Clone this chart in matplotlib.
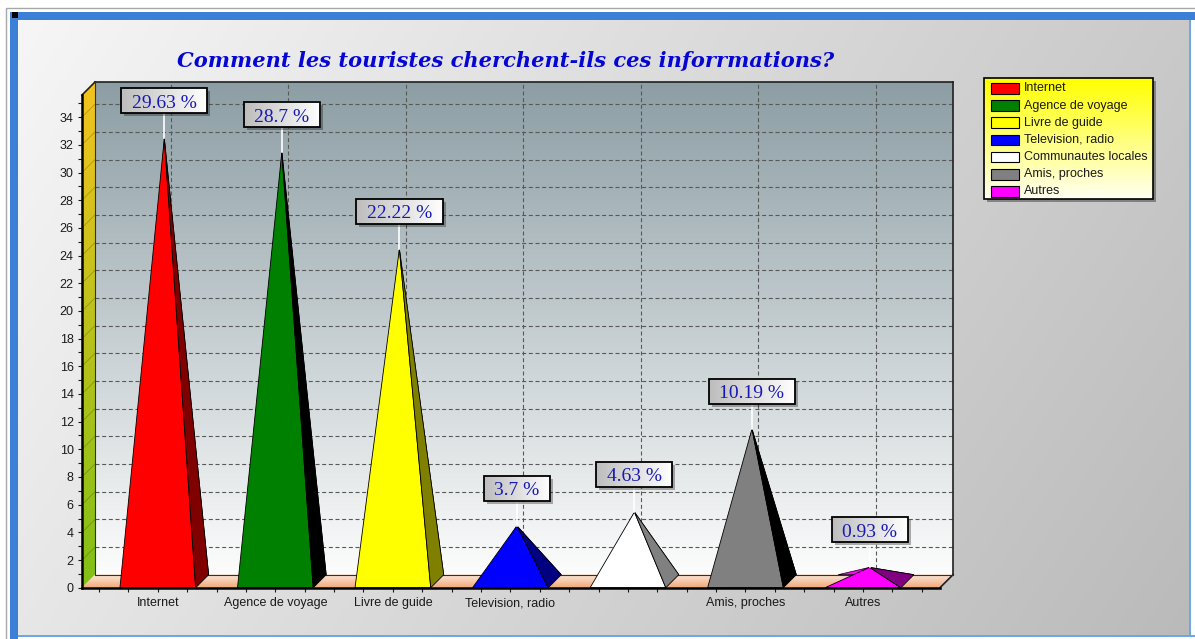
import numpy as np
import matplotlib
matplotlib.use("Agg")
import matplotlib.pyplot as plt
from matplotlib.patches import Polygon, Rectangle
from matplotlib.colors import to_rgb
from matplotlib.ticker import MultipleLocator

# ---------------- data ----------------
categories = ["Internet", "Agence de voyage", "Livre de guide", "Television, radio",
              "Communautes locales", "Amis, proches", "Autres"]
counts = [32, 31, 24, 4, 5, 11, 1]
percent_labels = ["29.63 %", "28.7 %", "22.22 %", "3.7 %", "4.63 %", "10.19 %", "0.93 %"]
tick_labels = ["Internet", "Agence de voyage", "Livre de guide", "Television, radio",
               "", "Amis, proches", "Autres"]
front_colors = ["#ff0000", "#008000", "#ffff00", "#0000ff", "#ffffff", "#808080", "#ff00ff"]
side_colors = ["#800000", "#000000", "#808000", "#000080", "#808080", "#000000", "#800080"]
y_ticks = list(range(0, 35, 2))
title_text = "Comment les touristes cherchent-ils ces inforrmations?"

# ---------------- figure ----------------
W, H, DPI = 1195, 639, 100
plt.rcParams['font.family'] = ['Liberation Sans', 'DejaVu Sans']
fig = plt.figure(figsize=(W / DPI, H / DPI), dpi=DPI)
fig.patch.set_facecolor('white')

# background / frame axes in pixel coordinates
bg = fig.add_axes([0, 0, 1, 1], zorder=0)
bg.set_xlim(0, W); bg.set_ylim(H, 0); bg.set_autoscale_on(False); bg.axis('off')
gx = np.linspace(0, 1, 240)[None, :]
gy = np.linspace(0, 1, 120)[:, None]
val = 0.965 - 0.175 * gx - 0.06 * gy
bg.imshow(np.dstack([val, val, val]), extent=(18, 1190, 636, 19), origin='upper',
          aspect='auto', interpolation='bilinear', zorder=0)
bg.add_patch(Rectangle((6, 8), W, H, fill=False, ec='#a8a8a8', lw=1, zorder=1))
bg.add_patch(Rectangle((10, 12), W - 10, 8, fc='#3b7fd6', ec='none', zorder=2))
bg.add_patch(Rectangle((10, 12), 8, H - 12, fc='#3b7fd6', ec='none', zorder=2))
bg.add_patch(Rectangle((12, 12), 6, 6, fc='black', ec='none', zorder=3))
bg.add_patch(Rectangle((18, 635), W, 2, fc='#6fa6e6', ec='none', zorder=2))
bg.add_patch(Rectangle((1189, 20), 2, 617, fc='#6fa6e6', ec='none', zorder=2))

# ---------------- main axes (front plane) ----------------
px_left, px_right, px_zero, px_top = 82, 940, 587.7, 95
ax = fig.add_axes([px_left / W, (H - px_zero) / H, (px_right - px_left) / W,
                   (px_zero - px_top) / H], zorder=2)
xmin, xmax = -0.645, 6.655
ymin, ymax = 0, 35.6
ax.set_xlim(xmin, xmax); ax.set_ylim(ymin, ymax)
ax.set_autoscale_on(False)
ax.set_facecolor('none')

depth_px = 13
dx = depth_px * (xmax - xmin) / (px_right - px_left)
dy = depth_px * (ymax - ymin) / (px_zero - px_top)

# back wall gradient
t = np.linspace(0, 1, 200)[:, None, None]
top_c = np.array([0.55, 0.62, 0.645]); bot_c = np.array([0.99, 0.99, 0.99])
wall = bot_c + (top_c - bot_c) * t
wall = np.repeat(wall, 2, axis=1)
ax.imshow(wall, extent=(xmin + dx, xmax + dx, dy, ymax + dy), origin='lower',
          aspect='auto', interpolation='bilinear', zorder=0.5, clip_on=False)

# grid on back wall
gls = dict(ls=(0, (3.6, 2.4)), color='#585858', lw=0.8, zorder=1, clip_on=False)
for v in y_ticks[1:]:
    ax.plot([xmin + dx, xmax + dx], [v + dy, v + dy], **gls)
for c in range(len(categories)):
    ax.plot([c + dx, c + dx], [dy, ymax + dy], **gls)

# left wall (gradient strips)
n = 140
lw_top = np.array(to_rgb('#f2c21a')); lw_bot = np.array(to_rgb('#80bf12'))
for i in range(n):
    y0 = ymax * i / n; y1 = ymax * (i + 1) / n
    col = lw_bot + (lw_top - lw_bot) * ((i + 0.5) / n)
    ax.add_patch(Polygon([(xmin, y0), (xmin + dx, y0 + dy), (xmin + dx, y1 + dy), (xmin, y1)],
                         closed=True, fc=col, ec=col, lw=0.3, zorder=2, clip_on=False))
for v in y_ticks[1:]:
    ax.plot([xmin, xmin + dx], [v, v + dy], color='black', alpha=0.22, lw=0.6,
            zorder=2.2, clip_on=False)

# floor (gradient strips)
nf = 14
fl_front = np.array(to_rgb('#f2a676')); fl_back = np.array(to_rgb('#ffe6d4'))
for i in range(nf):
    t0 = i / nf; t1 = (i + 1) / nf
    col = fl_front + (fl_back - fl_front) * ((i + 0.5) / nf)
    ax.add_patch(Polygon([(xmin + t0 * dx, t0 * dy), (xmax + t0 * dx, t0 * dy),
                          (xmax + t1 * dx, t1 * dy), (xmin + t1 * dx, t1 * dy)],
                         closed=True, fc=col, ec=col, lw=0.3, zorder=2, clip_on=False))

# box outlines
ols = dict(color='#202020', lw=1.2, zorder=2.6, clip_on=False)
ax.plot([xmin + dx, xmax + dx], [ymax + dy, ymax + dy], **ols)
ax.plot([xmax + dx, xmax + dx], [ymax + dy, dy], **ols)
ax.plot([xmin, xmin + dx], [ymax, ymax + dy], **ols)
ax.plot([xmax, xmax + dx], [0, dy], **ols)
ax.plot([xmin + dx, xmax + dx], [dy, dy], color='#303030', lw=0.8, zorder=2.6, clip_on=False)
ax.plot([xmin + dx, xmin + dx], [dy, ymax + dy], color='#303030', lw=0.8, zorder=2.6, clip_on=False)

# pyramids
hw = 0.322
apexes = []
for i, (v, fc, sc) in enumerate(zip(counts, front_colors, side_colors)):
    c = i
    apex = (c + dx / 2, v + dy / 2)
    apexes.append(apex)
    ax.add_patch(Polygon([(c - hw + dx, dy), (c + hw + dx, dy), apex], closed=True,
                         fc=fc, ec='black', lw=0.5, zorder=3, clip_on=False))
    ax.add_patch(Polygon([(c - hw, 0), (c + hw, 0), apex], closed=True,
                         fc=fc, ec='black', lw=0.6, zorder=4, clip_on=False))
    ax.add_patch(Polygon([(c + hw, 0), (c + hw + dx, dy), apex], closed=True,
                         fc=sc, ec='black', lw=0.6, zorder=4, clip_on=False))

# axes styling
for s in ['top', 'right']:
    ax.spines[s].set_visible(False)
for s in ['left', 'bottom']:
    ax.spines[s].set_color('black'); ax.spines[s].set_linewidth(1.8)
    ax.spines[s].set_zorder(5)
ax.set_yticks(y_ticks)
ax.yaxis.set_minor_locator(MultipleLocator(1))
ax.set_xticks(range(len(categories)))
ax.set_xticklabels(tick_labels)
ax.xaxis.set_minor_locator(MultipleLocator(0.25))
ax.tick_params(axis='both', which='both', direction='out', length=3, width=0.8,
               colors='#1a1a1a', labelsize=9)
ax.tick_params(axis='y', pad=3)
ax.tick_params(axis='x', pad=4)

# ---------------- overlay axes (labels, legend) ----------------
ov = fig.add_axes([0, 0, 1, 1], zorder=5)
ov.set_xlim(0, W); ov.set_ylim(H, 0); ov.set_autoscale_on(False); ov.axis('off')
ov.set_facecolor('none')
renderer = fig.canvas.get_renderer()

hgrad = np.linspace(0.74, 1.0, 100)[None, :]
hgrad = np.dstack([hgrad, hgrad, hgrad])
box_gap, box_h, box_padx = 25, 25, 10.5
for apex, lab in zip(apexes, percent_labels):
    disp = ax.transData.transform(apex)
    px, py = ov.transData.inverted().transform(disp)
    bb = py - box_gap
    bt = bb - box_h
    txt = ov.text(px, bb - 5.6, lab, ha='center', va='baseline', fontsize=14,
                  family='Liberation Serif', color='#1818b4', zorder=8)
    w = txt.get_window_extent(renderer).width
    bw = w + 2 * box_padx
    ov.plot([px, px], [py, bb], color='white', lw=1.2, zorder=5)
    ov.add_patch(Rectangle((px - bw / 2 + 3, bt + 3), bw, box_h, fc=(0, 0, 0, 0.3),
                           ec='none', zorder=5.5))
    ov.imshow(hgrad, extent=(px - bw / 2, px + bw / 2, bb, bt), origin='upper',
              aspect='auto', interpolation='bilinear', zorder=6)
    ov.add_patch(Rectangle((px - bw / 2, bt), bw, box_h, fill=False, ec='black',
                           lw=1.3, zorder=7))

# legend
lx0, ly0, lwid, lhei = 984, 78, 169, 121
ov.add_patch(Rectangle((lx0 + 3, ly0 + 3), lwid, lhei, fc=(0, 0, 0, 0.35), ec='none', zorder=5))
vg = np.linspace(0, 1, 100)[:, None]
lg = np.dstack([np.ones_like(vg), np.ones_like(vg), 0.0 + 0.95 * vg])
ov.imshow(lg, extent=(lx0, lx0 + lwid, ly0 + lhei, ly0), origin='upper', aspect='auto',
          interpolation='bilinear', zorder=6)
ov.add_patch(Rectangle((lx0, ly0), lwid, lhei, fill=False, ec='black', lw=1.2, zorder=7))
for i, (name, col) in enumerate(zip(categories, front_colors)):
    yy = 88.3 + 17.2 * i
    ov.add_patch(Rectangle((991, yy - 5.3), 28, 10.6, fc=col, ec='black', lw=0.8, zorder=8))
    ov.text(1024, yy, name, ha='left', va='center', fontsize=9, color='#1a1a1a', zorder=8)

# title
tt = fig.text(505.5 / W, 1 - 61 / H, title_text, ha='center', va='center', fontsize=16,
              family='DejaVu Serif', weight='bold', style='italic', color='#0606d4')
tw = tt.get_window_extent(renderer).width
tt.set_fontsize(16 * 659 / tw)

fig.savefig('out.png', dpi=DPI)
